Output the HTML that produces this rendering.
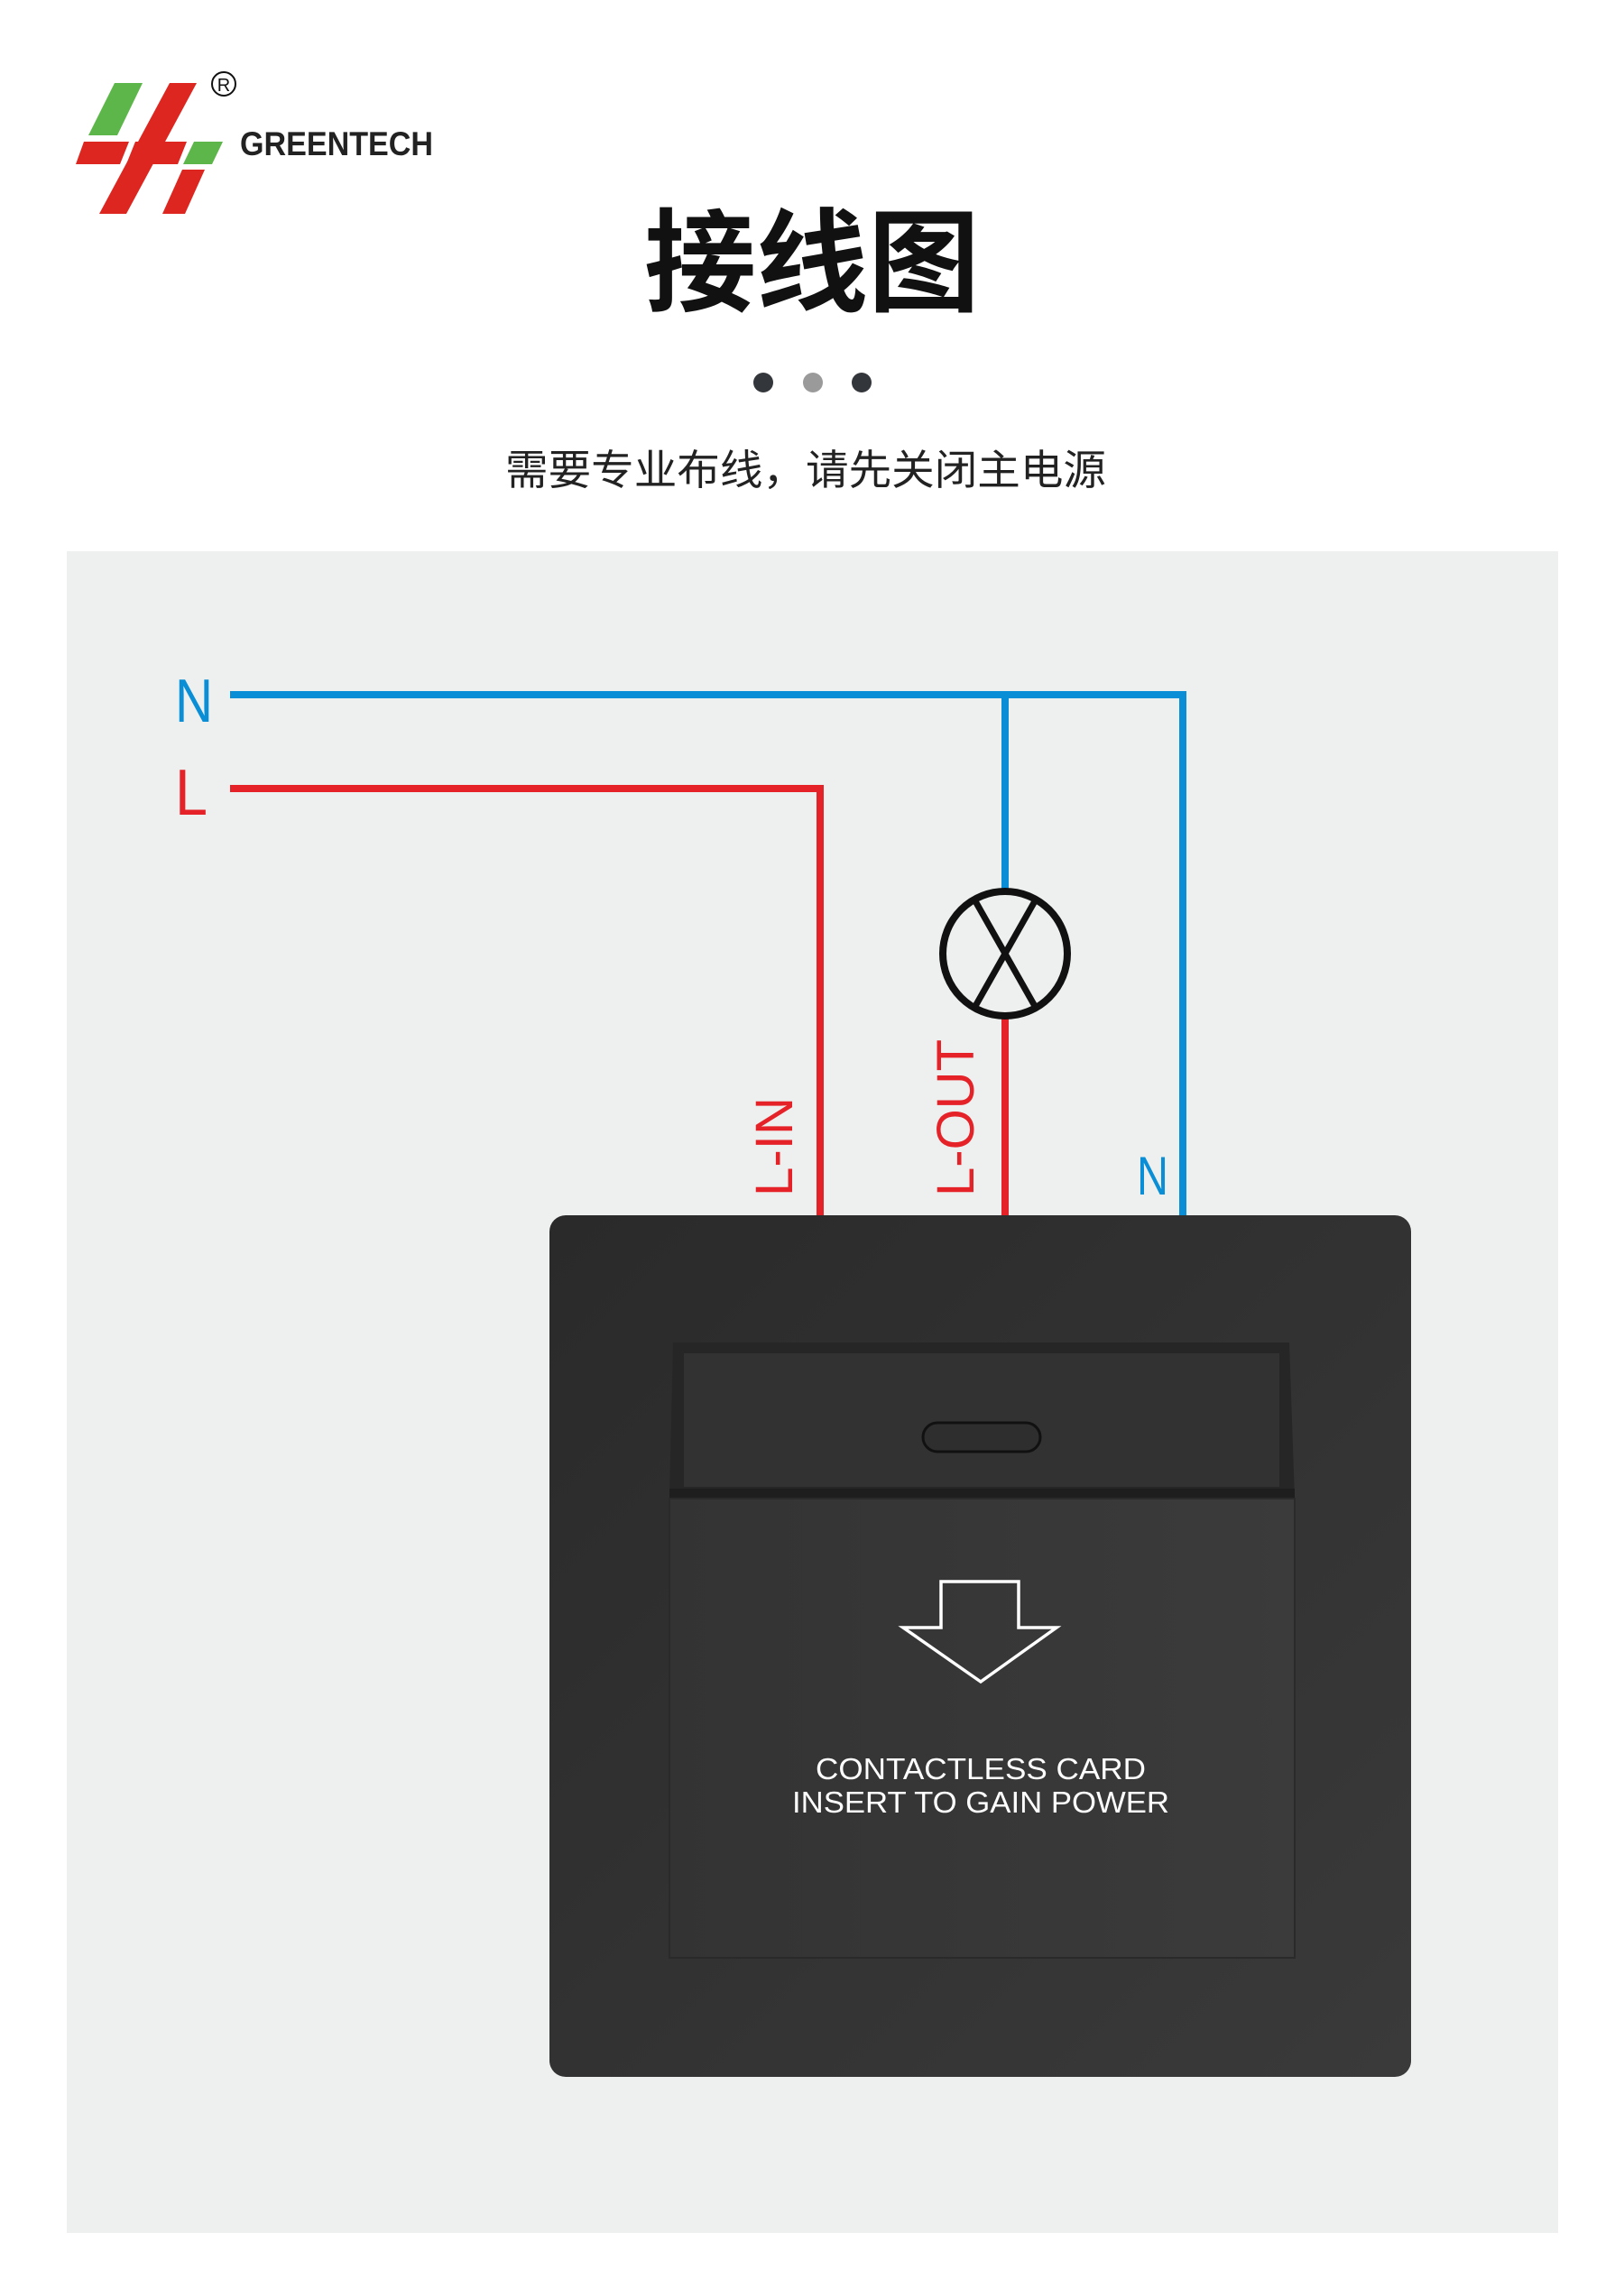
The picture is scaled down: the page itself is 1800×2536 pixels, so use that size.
<!DOCTYPE html>
<html><head><meta charset="utf-8"><style>
html,body{margin:0;padding:0;background:#fff}
body{width:1800px;height:2536px;position:relative;overflow:hidden;font-family:"Liberation Sans","Noto Sans CJK SC",sans-serif}
.abs{position:absolute}
</style></head><body>
<svg class="abs" style="left:0;top:0" width="1800" height="2536" viewBox="0 0 1800 2536">
<defs>
<linearGradient id="pl" x1="0" y1="0" x2="1" y2="1"><stop offset="0" stop-color="#2a2a2a"/><stop offset="1" stop-color="#3a3a3a"/></linearGradient>
<linearGradient id="cd" x1="0" y1="0" x2="1" y2="0"><stop offset="0" stop-color="#333"/><stop offset="1" stop-color="#3b3b3b"/></linearGradient>
</defs>
<polygon points="127,92 158,92 130,150 98,150" fill="#5db64a"/>
<polygon points="93,157 143,157 133,182 84,182" fill="#dd2620"/>
<polygon points="188,92 218,92 140,237 110,237" fill="#dd2620"/>
<polygon points="150,157 207,157 197,182 140,182" fill="#dd2620"/>
<polygon points="215,157 247,157 235,182 203,182" fill="#5db64a"/>
<polygon points="202,188 227,188 205,237 180,237" fill="#dd2620"/>
<circle cx="248" cy="93" r="13" fill="none" stroke="#111" stroke-width="2"/>
<text x="248" y="101" font-size="20" text-anchor="middle" font-family="Liberation Sans" fill="#111">R</text>
<text x="266" y="172" font-size="37" font-weight="bold" font-family="Liberation Sans Narrow, Liberation Sans" fill="#222" textLength="214" lengthAdjust="spacingAndGlyphs">GREENTECH</text>
<text x="900" y="335" font-size="124" font-weight="bold" text-anchor="middle" font-family="Noto Sans CJK SC, sans-serif" fill="#111">接线图</text>
<circle cx="846" cy="424" r="11" fill="#33363b"/>
<circle cx="901" cy="424" r="11" fill="#9a9a9a"/>
<circle cx="955" cy="424" r="11" fill="#33363b"/>
<text x="893" y="537" font-size="46" text-anchor="middle" font-family="Noto Sans CJK SC, sans-serif" fill="#222" textLength="666" lengthAdjust="spacingAndGlyphs">需要专业布线，请先关闭主电源</text>
<rect x="74" y="611" width="1653" height="1864" fill="#edf0ef"/>
<path d="M255 770 H1311 V1347" fill="none" stroke="#0a8fd6" stroke-width="8"/>
<path d="M1114 770 V988" fill="none" stroke="#0a8fd6" stroke-width="8"/>
<path d="M255 874 H909 V1347" fill="none" stroke="#e52228" stroke-width="8"/>
<path d="M1114 1126 V1347" fill="none" stroke="#e52228" stroke-width="8"/>
<circle cx="1114" cy="1057" r="69" fill="none" stroke="#111" stroke-width="8"/>
<line x1="1080" y1="997" x2="1148" y2="1117" stroke="#111" stroke-width="7"/>
<line x1="1148" y1="997" x2="1080" y2="1117" stroke="#111" stroke-width="7"/>
<text x="194" y="800" font-size="68" fill="#0a8fd6" font-family="Liberation Sans" textLength="42" lengthAdjust="spacingAndGlyphs">N</text>
<text x="194" y="903" font-size="72" fill="#e52228" font-family="Liberation Sans" textLength="36" lengthAdjust="spacingAndGlyphs">L</text>
<text x="1260" y="1324" font-size="60" fill="#0a8fd6" font-family="Liberation Sans" textLength="35" lengthAdjust="spacingAndGlyphs">N</text>
<text transform="translate(878,1326) rotate(-90)" font-size="58" fill="#e52228" font-family="Liberation Sans" textLength="110" lengthAdjust="spacingAndGlyphs">L-IN</text>
<text transform="translate(1079,1326) rotate(-90)" font-size="58" fill="#e52228" font-family="Liberation Sans" textLength="174" lengthAdjust="spacingAndGlyphs">L-OUT</text>
<rect x="609" y="1347" width="955" height="955" rx="18" fill="url(#pl)"/>
<polygon points="746,1488 1429,1488 1435,1661 742,1661" fill="#262626"/>
<rect x="758" y="1500" width="660" height="148" fill="#323232"/>
<rect x="742" y="1650" width="693" height="11" fill="#1e1e1e"/>
<rect x="742" y="1661" width="693" height="509" fill="url(#cd)" stroke="#2a2a2a" stroke-width="2"/>
<rect x="1023" y="1577" width="130" height="32" rx="16" fill="#2e2e2e" stroke="#111" stroke-width="3"/>
<polygon points="1043,1753 1129,1753 1129,1804 1171,1804 1087,1864 1001,1804 1043,1804" fill="none" stroke="#fff" stroke-width="3.5"/>
<text x="1087" y="1972" font-size="33" fill="#fff" text-anchor="middle" font-family="Liberation Sans" textLength="366" lengthAdjust="spacingAndGlyphs">CONTACTLESS CARD</text>
<text x="1087" y="2009" font-size="33" fill="#fff" text-anchor="middle" font-family="Liberation Sans" textLength="418" lengthAdjust="spacingAndGlyphs">INSERT TO GAIN POWER</text>
</svg>
</body></html>
